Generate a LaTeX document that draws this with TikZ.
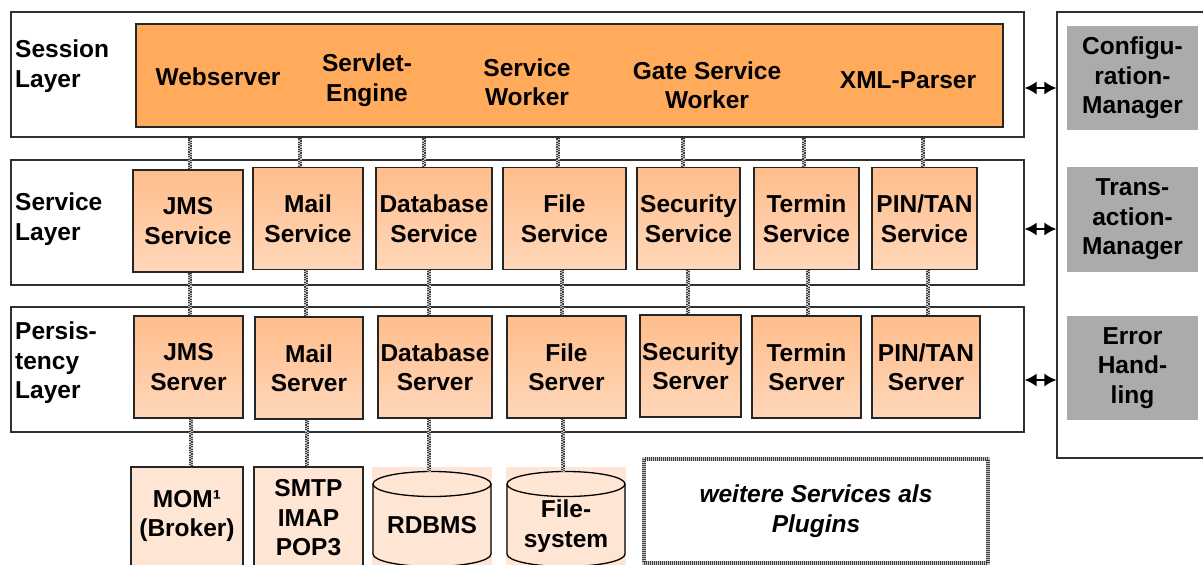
\documentclass[tikz,border=0pt]{standalone}
\usepackage{fontspec}
\setmainfont{Liberation Sans}
\usetikzlibrary{arrows.meta}
\definecolor{orng}{HTML}{FFAB5B}
\definecolor{svtop}{HTML}{FFBD8B}
\definecolor{svbot}{HTML}{FFD7BA}
\definecolor{pale}{HTML}{FFE5D4}
\definecolor{mgrgray}{HTML}{ABABAB}
\definecolor{edge}{HTML}{303030}
\begin{document}
\begin{tikzpicture}[x=1pt,y=-1pt,
  txt/.style={font=\fontsize{24.5}{29.5}\selectfont\bfseries, align=center, inner sep=0pt},
  lbl/.style={txt, align=left, anchor=west},
  layer/.style={draw=edge, line width=1.3pt, fill=white, minimum width=1013pt, minimum height=125pt, inner sep=0pt},
  svc/.style={txt, draw=black!85, line width=1.3pt, top color=svtop, bottom color=svbot, minimum height=102pt},
  botbox/.style={draw=black!85, line width=1.3pt, fill=pale, inner sep=0pt},
  mgrbox/.style={txt, fill=mgrgray, minimum width=131pt, minimum height=104pt},
  chk/.style={draw=gray!45, line width=4.5pt,
    postaction={draw=gray!50!black, line width=2.2pt, dash pattern=on 1.2pt off 1.2pt, transform canvas={xshift=-1.1pt}},
    postaction={draw=gray!50!black, line width=2.2pt, dash pattern=on 1.2pt off 1.2pt, dash phase=1.2pt, transform canvas={xshift=1.1pt}}},
  dbl/.style={{Latex[length=12pt,width=13pt]}-{Latex[length=12pt,width=13pt]}, line width=1.6pt}
]
\useasboundingbox (0,0) rectangle (1203,565);
\clip (0,0) rectangle (1203,565);

% layers
\node[layer] (sess) at (517.5,74.5) {};
\node[layer] (svl) at (517.5,222.5) {};
\node[layer] (psl) at (517.5,369.5) {};

\node[lbl] (lsess) at (15,66) {Session\\Layer};
\node[lbl] (lsvl) at (15,219) {Service\\Layer};
\node[lbl] (lpsl) at (15,363) {Persis-\\tency\\Layer};

% session box
\node[draw=black!85, line width=1.3pt, fill=orng, minimum width=867pt, minimum height=103pt, inner sep=0pt] (sesbox) at (569.5,75.5) {};
\node[txt] (ws) at (218,77) {Webserver};
\node[txt] (se) at (367,80) {Servlet-\\Engine};
\node[txt] (sw) at (527,82) {Service\\Worker};
\node[txt] (gsw) at (707,85) {Gate Service\\Worker};
\node[txt] (xml) at (908,80) {XML-Parser};

% service boxes
\node[svc, minimum width=110pt] (jmssvc) at (188,221) {JMS\\Service};
\node[svc, minimum width=110pt] (mailsvc) at (308,218.5) {Mail\\Service};
\node[svc, minimum width=116pt] (dbsvc) at (434,218.5) {Database\\Service};
\node[svc, minimum width=123pt] (filesvc) at (564.5,218.5) {File\\Service};
\node[svc, minimum width=103pt] (secsvc) at (688.5,218.5) {Security\\Service};
\node[svc, minimum width=105pt] (termsvc) at (806.5,218.5) {Termin\\Service};
\node[svc, minimum width=105pt] (pinsvc) at (924.5,218.5) {PIN/TAN\\Service};

% server boxes
\node[svc, minimum width=109pt] (jmssrv) at (188.5,367) {JMS\\Server};
\node[svc, minimum width=108pt] (mailsrv) at (309,368) {Mail\\Server};
\node[svc, minimum width=114pt] (dbsrv) at (435,367) {Database\\Server};
\node[svc, minimum width=119pt] (filesrv) at (566.5,367) {File\\Server};
\node[svc, minimum width=101pt] (secsrv) at (690.5,366) {Security\\Server};
\node[svc, minimum width=109pt] (termsrv) at (806.5,367) {Termin\\Server};
\node[svc, minimum width=108pt] (pinsrv) at (926,367) {PIN/TAN\\Server};

% connectors session -> service
\foreach \a/\d in {jmssvc/2, mailsvc/-8, dbsvc/-10, filesvc/-6.5, secsvc/-5.5, termsvc/-2.5, pinsvc/-1.5}{
  \coordinate (t) at ([xshift=\d pt]\a.north);
  \draw[chk] (t) -- (t |- sess.south);
}
% connectors service -> server
\foreach \a/\b/\d in {jmssrv/jmssvc/1.5, mailsrv/mailsvc/-3, dbsrv/dbsvc/-6, filesrv/filesvc/-4.5, secsrv/secsvc/-2.5, termsrv/termsvc/1.5, pinsrv/pinsvc/2}{
  \coordinate (t) at ([xshift=\d pt]\a.north);
  \draw[chk] (t) -- (t |- \b.south);
}

% bottom row
\node[botbox, minimum width=112pt, minimum height=113pt] (mom) at (187,523.5) {};
\node[txt] (momt) at (187,516) {MOM¹\\(Broker)};
\node[botbox, minimum width=109pt, minimum height=113pt] (smtp) at (308.5,523.5) {};
\node[txt] (smtpt) at (308.5,518) {SMTP\\IMAP\\POP3};

% cylinders
\fill[pale] (372,467) rectangle (492,566);
\filldraw[fill=pale, draw=black, line width=1.3pt] (373,484) -- (373,554) arc[start angle=180,end angle=0,x radius=59,y radius=12.5] -- (491,484);
\filldraw[fill=pale, draw=black, line width=1.3pt] (432,484) ellipse[x radius=59, y radius=12.5];
\coordinate (rdbtop) at (429,471.5);
\node[txt] (rdbms) at (432,525) {RDBMS};

\fill[pale] (506,467) rectangle (626,566);
\filldraw[fill=pale, draw=black, line width=1.3pt] (507,484) -- (507,554) arc[start angle=180,end angle=0,x radius=59,y radius=12.5] -- (625,484);
\filldraw[fill=pale, draw=black, line width=1.3pt] (566,484) ellipse[x radius=59, y radius=12.5];
\coordinate (fstop) at (563,471.5);
\node[txt] (fsys) at (566,526) {File-\\system};

% plugins
\node[txt, font=\fontsize{24.5}{29.5}\selectfont\bfseries\itshape, fill=white, minimum width=344pt, minimum height=104pt,
  draw=gray!45, line width=4pt, postaction={draw=gray!50!black, line width=4pt, dash pattern=on 1pt off 1pt}] (plug) at (816,511) {weitere Services als\\Plugins};

% connectors server -> bottom
\coordinate (t) at ([xshift=2.5pt]jmssrv.south);
\draw[chk] (t) -- (t |- mom.north);
\coordinate (t) at ([xshift=-2pt]mailsrv.south);
\draw[chk] (t) -- (t |- smtp.north);
\coordinate (t) at ([xshift=-6pt]dbsrv.south);
\draw[chk] (t) -- (t |- rdbtop);
\coordinate (t) at ([xshift=-3.5pt]filesrv.south);
\draw[chk] (t) -- (t |- fstop);

% manager column
\node[draw=edge, line width=1.3pt, fill=white, minimum width=158pt, minimum height=446pt, inner sep=0pt] (mgr) at (1136,235) {};
\node[mgrbox] (cfg) at (1132.5,78) {Configu-\\ration-\\Manager};
\node[mgrbox, minimum height=105pt] (trx) at (1132.5,219.5) {Trans-\\action-\\Manager};
\node[mgrbox] (err) at (1132.5,368) {Error\\Hand-\\ling};

\draw[dbl] ([yshift=-13.5pt]sess.east) -- ([yshift=-13.5pt]sess.east -| mgr.west);
\draw[dbl] ([yshift=-6.5pt]svl.east) -- ([yshift=-6.5pt]svl.east -| mgr.west);
\draw[dbl] ([yshift=-10.5pt]psl.east) -- ([yshift=-10.5pt]psl.east -| mgr.west);
\end{tikzpicture}
\end{document}
